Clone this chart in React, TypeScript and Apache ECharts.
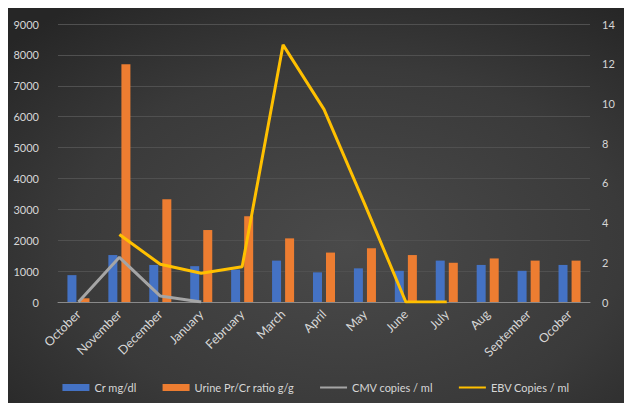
import React, { useEffect, useRef } from "react";
import * as echarts from "echarts";

const categories = ["October", "November", "December", "January", "February", "March", "April", "May", "June", "July", "Aug", "September", "Ocober"];
const crValues = [870, 1520, 1200, 1160, 1050, 1340, 960, 1090, 1010, 1340, 1200, 1010, 1200];
const urineValues = [120, 7700, 3330, 2330, 2780, 2060, 1600, 1740, 1520, 1270, 1410, 1340, 1340];
const cmvValues: (number | null)[] = [0, 2.25, 0.3, 0, null, null, null, null, null, null, null, null, null];
const ebvValues: (number | null)[] = [null, 3.4, 1.9, 1.45, 1.78, 12.95, 9.7, 4.9, 0, 0, null, null, null];

const FONT = "Lato, 'Open Sans', sans-serif";
const TXT = "#d6d6d6";
const LINE_ICON = "path://M0,0 L0.01,0 M0,2.2 L33,2.2 L33,4.8 L0,4.8 Z M33,7 L32.99,7";

export default function App() {
  const ref = useRef<HTMLDivElement>(null);
  useEffect(() => {
    if (!ref.current) return;
    const chart = echarts.init(ref.current, null, { renderer: "svg" });
    chart.setOption({
      animation: false,
      backgroundColor: {
        type: "radial",
        x: 0.55,
        y: 0.6,
        r: 0.75,
        colorStops: [
          { offset: 0, color: "#4a4a4a" },
          { offset: 0.6, color: "#3a3a3a" },
          { offset: 1, color: "#262626" },
        ],
      },
      textStyle: { fontFamily: FONT },
      grid: { left: 50, right: 34, top: 16, bottom: 101 },
      legend: {
        bottom: 5,
        left: "center",
        itemWidth: 27,
        itemHeight: 7,
        itemGap: 26,
        textStyle: { color: TXT, fontSize: 11, fontFamily: FONT },
        data: [
          { name: "Cr mg/dl", icon: "rect" },
          { name: "Urine Pr/Cr ratio g/g", icon: "rect" },
          { name: "CMV copies / ml", icon: LINE_ICON },
          { name: "EBV Copies / ml", icon: LINE_ICON },
        ],
      },
      xAxis: {
        type: "category",
        data: categories,
        axisLine: { lineStyle: { color: "#8a8a8a", width: 1 } },
        axisTick: { show: false },
        axisLabel: { rotate: 45, color: TXT, fontSize: 12.5, margin: 10, interval: 0, fontFamily: FONT },
      },
      yAxis: [
        {
          type: "value",
          min: 0,
          max: 9000,
          interval: 1000,
          axisLine: { show: false },
          axisTick: { show: false },
          axisLabel: { color: TXT, fontSize: 11, margin: 19, fontFamily: FONT, formatter: (v: number) => String(v) },
          splitLine: { lineStyle: { color: "#505050", width: 1 } },
        },
        {
          type: "value",
          min: 0,
          max: 14,
          interval: 2,
          axisLine: { show: false },
          axisTick: { show: false },
          axisLabel: { color: TXT, fontSize: 11, margin: 12, fontFamily: FONT },
          splitLine: { show: false },
        },
      ],
      series: [
        {
          name: "Cr mg/dl",
          type: "bar",
          data: crValues,
          barWidth: 9,
          barGap: "45%",
          itemStyle: { color: "#4472c4" },
        },
        {
          name: "Urine Pr/Cr ratio g/g",
          type: "bar",
          data: urineValues,
          barWidth: 9,
          barGap: "45%",
          itemStyle: { color: "#ed7d31" },
        },
        {
          name: "CMV copies / ml",
          type: "line",
          yAxisIndex: 1,
          data: cmvValues,
          symbol: "none",
          lineStyle: { color: "#a5a5a5", width: 3 },
          itemStyle: { color: "#a5a5a5" },
        },
        {
          name: "EBV Copies / ml",
          type: "line",
          yAxisIndex: 1,
          data: ebvValues,
          symbol: "none",
          lineStyle: { color: "#ffc000", width: 3 },
          itemStyle: { color: "#ffc000" },
        },
      ],
    });
    return () => chart.dispose();
  }, []);
  return (
    <div
      ref={ref}
      style={{ position: "absolute", left: 8, top: 8, width: 616, height: 395 }}
    />
  );
}
